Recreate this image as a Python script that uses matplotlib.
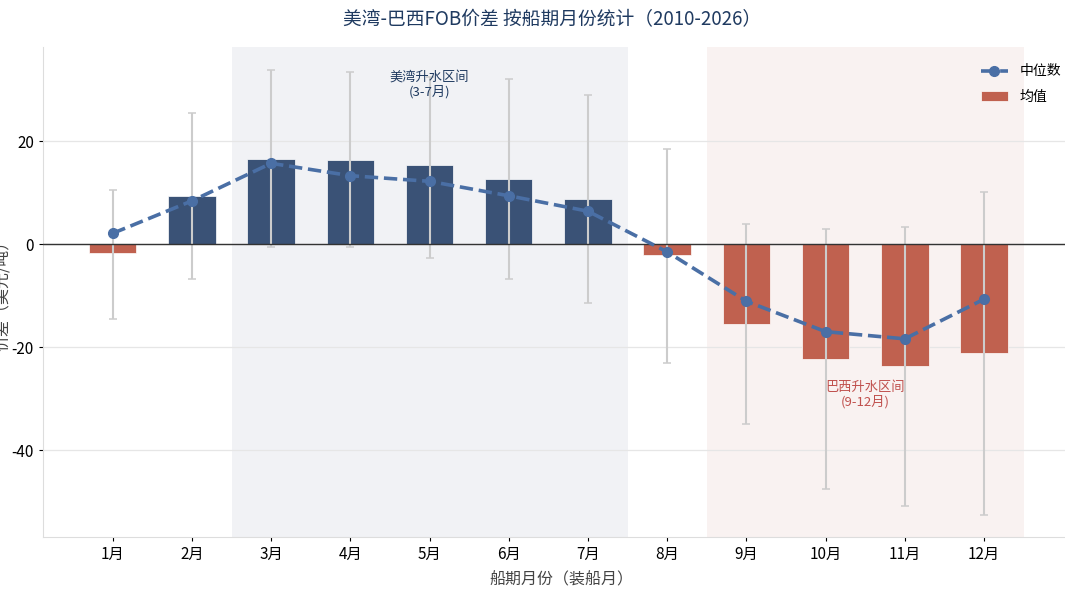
import numpy as np
import matplotlib
matplotlib.use('Agg')
from matplotlib import pyplot as plt

plt.rcParams['font.family'] = ['Noto Sans CJK SC', 'DejaVu Sans']
plt.rcParams['axes.unicode_minus'] = False

#%% data
months = np.arange(1, 13)
month_labels = [str(m) + '月' for m in months]
mean_vals = [-1.8, 9.4, 16.6, 16.4, 15.4, 12.6, 8.7, -2.1, -15.5, -22.3, -23.7, -21.1]
median_vals = [2.1, 8.4, 15.7, 13.3, 12.2, 9.4, 6.4, -1.5, -11.1, -17.0, -18.4, -10.7]
low_vals = [-14.6, -6.7, -0.65, -0.6, -2.7, -6.7, -11.5, -23.0, -35.0, -47.6, -50.9, -52.7]
high_vals = [10.6, 25.4, 33.8, 33.4, 32.5, 32.0, 28.9, 18.4, 3.9, 2.9, 3.3, 10.2]

navy = '#3a5276'
red = '#c0614f'
line_col = '#4a6fa5'

fig = plt.figure(figsize=(10.65, 6.02), dpi=100)
ax = fig.add_axes([43/1065, 65/602, 1036/1065, 490/602])

# shaded windows
ax.axvspan(2.5, 7.5, color='#e6e9ee', alpha=0.55, zorder=0, lw=0)
ax.axvspan(8.5, 12.5, color='#f3e4e0', alpha=0.45, zorder=0, lw=0)

colors = [navy if v >= 0 else red for v in mean_vals]
ax.bar(months, mean_vals, width=0.6, color=colors, edgecolor='white',
       linewidth=0.5, label='均值', zorder=2)

mean_arr = np.array(mean_vals)
yerr = [mean_arr - np.array(low_vals), np.array(high_vals) - mean_arr]
ax.errorbar(months, mean_vals, yerr=yerr, fmt='none', ecolor='#cccccc',
            elinewidth=1.5, capsize=3, capthick=1.1, zorder=3)

ax.plot(months, median_vals, '--', color=line_col, lw=2.6, marker='o',
        markersize=7, label='中位数', zorder=4)

ax.axhline(0, color='#333333', lw=1.0, zorder=3)

ax.text(5, 31, '美湾升水区间\n(3-7月)', ha='center', va='center', fontsize=9.5,
        color='#1f3a60', linespacing=1.1, zorder=5)
ax.text(10.5, -29.3, '巴西升水区间\n(9-12月)', ha='center', va='center', fontsize=9.5,
        color='#c0504d', linespacing=1.1, zorder=5)

ax.set_xlim(0.12, 13.2)
ax.set_ylim(-56.9, 38.3)
ax.set_xticks(months)
ax.set_xticklabels(month_labels, fontsize=11)
ax.set_yticks([-40, -20, 0, 20])
ax.tick_params(axis='y', labelsize=11, length=3)
ax.tick_params(axis='x', length=3)
ax.grid(axis='y', color='#e6e6e6', lw=0.9)
ax.set_axisbelow(True)
for s in ['top', 'right']:
    ax.spines[s].set_visible(False)
for s in ['left', 'bottom']:
    ax.spines[s].set_color('#dddddd')

ax.set_xlabel('船期月份（装船月）', fontsize=11.5, color='#444444', labelpad=6)
ax.set_ylabel('价差（美元/吨）', fontsize=11.5, color='#444444', labelpad=0)
fig.text(552/1065, 1 - 20/602, '美湾-巴西FOB价差 按船期月份统计（2010-2026）',
         ha='center', va='center', fontsize=13.5, color='#1f3a60')

ax.legend(loc='upper right', bbox_to_anchor=(1.008, 1 - 52/602),
          bbox_transform=fig.transFigure, frameon=False, fontsize=10,
          labelspacing=0.8)

fig.savefig('out.png', dpi=100)
